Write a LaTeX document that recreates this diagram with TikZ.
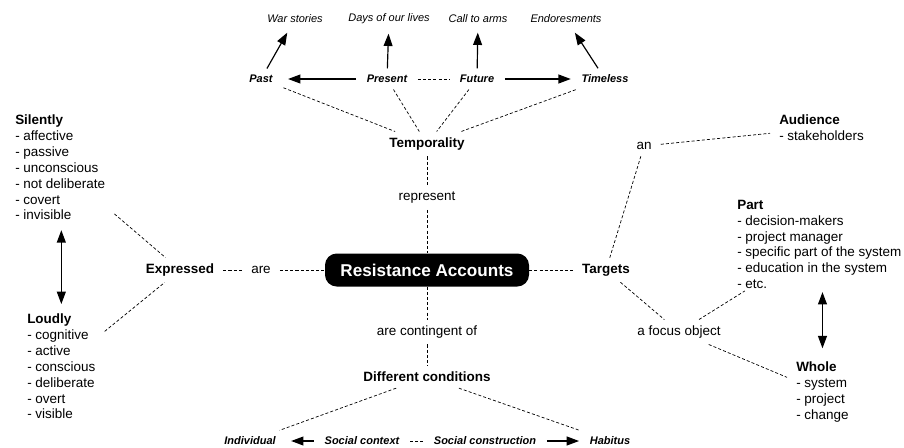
\documentclass[tikz,border=0pt]{standalone}
\usepackage{fontspec}
\setmainfont{Liberation Sans}
\usetikzlibrary{arrows.meta}

\begin{document}
\begin{tikzpicture}[x=0.03cm,y=-0.03cm,
  word/.style={inner xsep=7.7pt,inner ysep=5.1pt,
               font=\fontsize{11.5}{13.5}\selectfont},
  concept/.style={word,
               font=\fontsize{11.5}{13.5}\selectfont\bfseries},
  tense/.style={inner xsep=9pt,inner ysep=5.5pt,
               font=\fontsize{9.4}{11}\selectfont\bfseries\itshape},
  story/.style={inner xsep=6pt,inner ysep=8pt,
               font=\fontsize{9.4}{11}\selectfont\itshape},
  block/.style={anchor=north west,align=left,
               inner xsep=7.7pt,inner ysep=1.7pt,
               font=\fontsize{11.5}{13.5}\selectfont},
  hub/.style={fill=black,text=white,rounded corners=10pt,
               minimum width=6.12cm,minimum height=0.99cm,
               inner sep=0pt,
               font=\fontsize{14.6}{16}\selectfont\bfseries},
  link/.style={dash pattern=on 2.6pt off 1.8pt,line width=0.6pt},
  arr/.style={-{Triangle[length=10.5pt,width=7.6pt]},line width=1pt},
  twoarr/.style={{Triangle[length=10.5pt,width=7.6pt]}-{Triangle[length=10.5pt,width=7.6pt]},
               line width=1pt}]

\useasboundingbox (0,0) rectangle (904,447);

\node[hub] (hub) at (427,270) {Resistance Accounts};

\node[story] (war)  at (295,19) {War stories};
\node[story] (days) at (389,19) {Days of our lives};
\node[story] (call) at (478,19) {Call to arms};
\node[story] (endo) at (566,19) {Endoresments};

\node[tense] (past)     at (261,79) {Past};
\node[tense] (present)  at (387,79) {Present};
\node[tense] (future)   at (477,79) {Future};
\node[tense] (timeless) at (605,79) {Timeless};

\draw[arr] (past) -- (war);
\draw[arr] (present) -- (days);
\draw[arr] (future) -- (call);
\draw[arr] (timeless) -- (endo);
\draw[arr,shorten >=4pt] (present) -- (past);
\draw[arr] (future) -- (timeless);
\draw[link] (present) -- (future);

\node[concept] (temp) at (427,144) {Temporality};
\node[word] (repr) at (427,198) {represent};

\foreach \t in {past,present,future,timeless}
  \draw[link] (\t) -- (temp);
\draw[link] (temp) -- (repr);
\draw[link] (repr) -- (hub);

\node[concept] (expr) at (180,270) {Expressed};
\node[word] (are) at (261,270) {are};
\draw[link] (expr) -- (are);
\draw[link] (are) -- (hub);

\node[block] (silent) at (6,113)
     {\textbf{Silently}\\- affective\\- passive\\- unconscious\\
      - not deliberate\\- covert\\- invisible};
\node[block] (loud) at (18,312)
     {\textbf{Loudly}\\- cognitive\\- active\\- conscious\\
      - deliberate\\- overt\\- visible};
\draw[link] (silent) -- (expr);
\draw[link] (loud) -- (expr);
\draw[twoarr,shorten <=6.8pt,shorten >=6.8pt]
     (loud.north |- silent.south) -- (loud.north);

\node[concept] (targets) at (606,270) {Targets};
\node[word] (an) at (644,146) {an};
\node[word] (focus) at (679,332) {a focus object};
\draw[link] (hub) -- (targets);
\draw[link] (targets) -- (an);
\draw[link] (targets) -- (focus);

\node[block] (audience) at (770,113)
     {\textbf{Audience}\\- stakeholders};
\node[block] (part) at (728,198)
     {\textbf{Part}\\- decision-makers\\- project manager\\
      - specific part of the system\\- education in the system\\- etc.};
\node[block] (whole) at (787,360)
     {\textbf{Whole}\\- system\\- project\\- change};
\draw[link] (an) -- (audience);
\draw[link] (focus) -- (part);
\draw[link] (focus) -- (whole);
\draw[twoarr,shorten <=1pt,shorten >=10pt]
     (whole.north |- part.south) -- (whole.north);

\node[word] (cont) at (427,332) {are contingent of};
\node[concept] (diff) at (427,377) {Different conditions};
\draw[link] (hub) -- (cont);
\draw[link] (cont) -- (diff);

\node[tense] (indiv)   at (250,441) {Individual};
\node[tense] (socctx)  at (362,441) {Social context};
\node[tense] (soccon)  at (485,441) {Social construction};
\node[tense] (habitus) at (610,441) {Habitus};
\draw[link] (diff) -- (indiv);
\draw[link] (diff) -- (habitus);
\draw[arr,shorten >=4pt] (socctx) -- (indiv);
\draw[arr] (soccon) -- (habitus);
\draw[link] (socctx) -- (soccon);

\end{tikzpicture}
\end{document}
